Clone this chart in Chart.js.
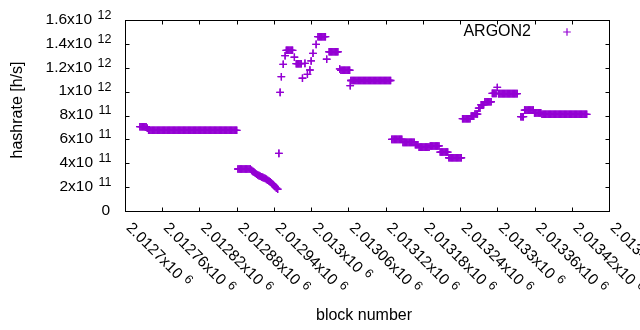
<!DOCTYPE html>
<html>
<head>
<meta charset="utf-8">
<script src="https://cdn.jsdelivr.net/npm/chart.js@4/dist/chart.umd.min.js"></script>
<style>
  html, body { margin: 0; padding: 0; background: #fff; }
  #c { display: block; }
</style>
</head>
<body>
<canvas id="c" width="640" height="330"></canvas>
<script>
// ---- data ----
const seriesName = 'ARGON2';
const xTitle = 'block number';
const yTitle = 'hashrate [h/s]';

const blocks = [
  2012724,2012726,2012728,2012730,2012732,2012734,2012736,
  2012738,2012740,2012742,2012744,2012746,2012748,2012750,2012752,2012754,2012756,2012758,2012760,2012762,2012764,2012766,2012768,2012770,2012772,
  2012774,2012776,2012778,2012780,2012782,2012784,2012786,2012788,2012790,2012792,2012794,2012796,2012798,2012800,2012802,2012804,2012806,2012808,
  2012810,2012812,2012814,2012816,2012818,2012820,2012822,2012824,2012826,2012828,2012830,2012832,2012834,2012836,2012838,2012840,2012842,2012844,
  2012846,2012848,2012850,2012852,2012854,2012856,2012858,2012860,2012862,2012864,2012866,2012868,2012870,2012872,2012874,2012876,2012878,2012880,
  2012882,2012884,2012886,2012888,2012890,2012892,2012894,2012896,2012898,2012900,2012902,
  2012904,2012906,2012908,2012910,2012912,2012914,2012916,2012918,2012920,2012922,2012924,2012926,2012928,2012930,2012932,2012934,2012936,2012938,2012940,2012942,2012944,2012946,
  2012948,2012950,2012952,2012955,2012958,
  2012960,2012962,2012964,2012966,2012968,2012970,2012973,
  2012976,2012978,2012980,2012982,2012984,2012986,2012990,2012994,2012998,2013000,2013003,2013008,
  2013011,2013013,2013015,2013017,2013019,2013021,2013023,2013025,
  2013029,2013031,2013033,2013035,2013037,2013039,2013041,2013043,2013046,
  2013048,2013050,2013052,2013054,2013056,2013058,2013060,2013062,2013063,
  2013064,2013066,2013068,2013070,2013072,2013074,2013076,2013078,2013080,2013082,2013084,2013086,2013088,2013090,2013092,2013094,
  2013096,2013098,2013100,2013102,2013104,2013106,2013108,2013110,2013112,2013114,2013116,2013118,2013120,2013122,2013124,2013126,2013128,
  2013130,2013132,2013134,2013136,2013138,2013140,2013142,2013144,2013146,
  2013148,2013150,2013152,2013154,2013156,2013158,2013160,2013162,2013164,2013166,
  2013168,2013170,2013172,
  2013174,2013176,2013178,2013180,2013182,2013184,2013186,2013188,2013190,
  2013192,2013194,2013196,2013198,2013200,2013202,2013204,2013206,
  2013208,2013210,2013212,2013214,2013216,2013218,2013220,
  2013222,2013224,2013226,2013228,2013230,2013232,2013234,2013236,2013238,2013240,2013242,
  2013244,2013246,2013248,2013250,2013252,2013254,2013256,
  2013258,2013260,2013262,2013264,2013266,2013268,2013270,2013272,2013274,2013276,2013278,
  2013280,2013282,2013284,2013286,2013288,2013290,2013292,2013294,2013296,2013298,2013300,
  2013302,2013304,2013306,2013308,2013310,2013312,2013314,2013316,2013318,2013320,2013322,2013324,2013326,2013328,2013330,2013332,
  2013338,2013340,2013342,
  2013344,2013346,2013348,2013350,2013352,2013354,2013356,2013358,
  2013360,2013362,2013364,2013366,2013368,2013370,
  2013372,2013374,2013376,2013378,2013380,2013382,2013384,2013386,2013388,2013390,2013392,2013394,2013396,2013398,2013400,2013402,2013404,2013406,
  2013408,2013410,2013412,2013414,2013416,2013418,2013420,2013422,2013424,2013426,2013428,2013430,2013432,2013434,2013436,2013438,2013440,2013442,2013444
];

const hashrate = [
  706e9,706e9,706e9,706e9,706e9,706e9,693e9,
  676e9,676e9,676e9,676e9,676e9,676e9,676e9,676e9,676e9,676e9,676e9,676e9,676e9,676e9,676e9,676e9,676e9,676e9,
  676e9,676e9,676e9,676e9,676e9,676e9,676e9,676e9,676e9,676e9,676e9,676e9,676e9,676e9,676e9,676e9,676e9,676e9,
  676e9,676e9,676e9,676e9,676e9,676e9,676e9,676e9,676e9,676e9,676e9,676e9,676e9,676e9,676e9,676e9,676e9,676e9,
  676e9,676e9,676e9,676e9,676e9,676e9,676e9,676e9,676e9,676e9,676e9,676e9,676e9,676e9,676e9,676e9,676e9,676e9,
  352e9,352e9,352e9,352e9,352e9,352e9,352e9,352e9,352e9,352e9,352e9,
  340e9,332e9,324e9,316e9,308e9,302e9,296e9,291e9,286e9,282e9,277e9,272e9,265e9,258e9,251e9,244e9,234e9,224e9,214e9,203e9,192e9,182e9,
  483e9,994e9,1125e9,1229e9,1301e9,
  1346e9,1346e9,1346e9,1346e9,1346e9,1346e9,1288e9,
  1234e9,1234e9,1234e9,1234e9,1234e9,1112e9,1237e9,1145e9,1181e9,1257e9,1321e9,1396e9,
  1460e9,1460e9,1460e9,1460e9,1460e9,1460e9,1460e9,1271e9,
  1334e9,1334e9,1334e9,1334e9,1334e9,1334e9,1334e9,1334e9,1190e9,
  1179e9,1179e9,1179e9,1179e9,1179e9,1179e9,1179e9,1179e9,1050e9,
  1093e9,1093e9,1093e9,1093e9,1093e9,1093e9,1093e9,1093e9,1093e9,1093e9,1093e9,1093e9,1093e9,1093e9,1093e9,1093e9,
  1093e9,1093e9,1093e9,1093e9,1093e9,1093e9,1093e9,1093e9,1093e9,1093e9,1093e9,1093e9,1093e9,1093e9,1093e9,1093e9,1093e9,
  600e9,600e9,600e9,600e9,600e9,600e9,600e9,600e9,600e9,
  575e9,575e9,575e9,575e9,575e9,575e9,575e9,575e9,575e9,575e9,
  555e9,555e9,555e9,
  535e9,535e9,535e9,535e9,535e9,535e9,535e9,535e9,535e9,
  545e9,545e9,545e9,545e9,545e9,545e9,545e9,545e9,
  494e9,494e9,494e9,494e9,494e9,494e9,494e9,
  446e9,446e9,446e9,446e9,446e9,446e9,446e9,446e9,446e9,446e9,446e9,
  773e9,773e9,773e9,773e9,773e9,773e9,773e9,
  795e9,795e9,795e9,812e9,812e9,812e9,862e9,862e9,890e9,890e9,890e9,
  915e9,915e9,915e9,915e9,915e9,915e9,985e9,985e9,985e9,985e9,1035e9,
  983e9,983e9,983e9,983e9,983e9,983e9,983e9,983e9,983e9,983e9,983e9,983e9,983e9,983e9,983e9,983e9,
  790e9,790e9,790e9,
  845e9,845e9,845e9,845e9,845e9,845e9,845e9,845e9,
  822e9,822e9,822e9,822e9,822e9,822e9,
  810e9,810e9,810e9,810e9,810e9,810e9,810e9,810e9,810e9,810e9,810e9,810e9,810e9,810e9,810e9,810e9,810e9,810e9,
  810e9,810e9,810e9,810e9,810e9,810e9,810e9,810e9,810e9,810e9,810e9,810e9,810e9,810e9,810e9,810e9,810e9,810e9,810e9
];

const xMin = 2012700, xMax = 2013480, xStep = 60;
const yMin = 0, yMax = 1.6e12, yStep = 0.2e12;

// ---- styling ----
const COLOR = '#9400d3';
const FONT_FAMILY = "'Liberation Sans', Arial, Helvetica, sans-serif";
const BASE_FONT = '15.5px ' + FONT_FAMILY;
const SUP_FONT = '12.5px ' + FONT_FAMILY;
const TITLE_FONT = '16px ' + FONT_FAMILY;
const TICK = 4;
const MARK_R = 3.8;
const MARK_W = 1.3;

function splitPow(v) {
  if (Math.abs(v) < 1e-9) return null;
  const e = Math.floor(Math.log10(Math.abs(v)) + 1e-9);
  const m = parseFloat((v / Math.pow(10, e)).toPrecision(8));
  return { m: m, e: e };
}

function drawCross(ctx, x, y) {
  ctx.beginPath();
  ctx.moveTo(x - MARK_R, y); ctx.lineTo(x + MARK_R, y);
  ctx.moveTo(x, y - MARK_R); ctx.lineTo(x, y + MARK_R);
  ctx.stroke();
}

// second pass over the library-drawn points so dense runs read as solid bands
const solidRuns = {
  id: 'solidRuns',
  afterDatasetsDraw(chart) {
    const meta = chart.getDatasetMeta(0);
    const a = chart.chartArea;
    const ctx = chart.ctx;
    ctx.save();
    ctx.beginPath();
    ctx.rect(a.left, a.top, a.right - a.left, a.bottom - a.top);
    ctx.clip();
    meta.controller.draw();
    ctx.restore();
  }
};

const gnuplotDecor = {
  id: 'gnuplotDecor',
  afterDraw(chart) {
    const ctx = chart.ctx;
    const a = chart.chartArea;
    const xs = chart.scales.x, ys = chart.scales.y;
    ctx.save();
    ctx.strokeStyle = '#000';
    ctx.fillStyle = '#000';
    ctx.lineWidth = 1;
    const L = Math.round(a.left) + 0.5, R = Math.round(a.right) + 0.5;
    const T = Math.round(a.top) + 0.5, B = Math.round(a.bottom) + 0.5;
    ctx.strokeRect(L, T, R - L, B - T);
    ctx.beginPath();
    ys.ticks.forEach(t => {
      const y = Math.round(ys.getPixelForValue(t.value)) + 0.5;
      ctx.moveTo(L, y); ctx.lineTo(L + TICK, y);
      ctx.moveTo(R, y); ctx.lineTo(R - TICK, y);
    });
    xs.ticks.forEach(t => {
      const x = Math.round(xs.getPixelForValue(t.value)) + 0.5;
      ctx.moveTo(x, B); ctx.lineTo(x, B - TICK);
      ctx.moveTo(x, T); ctx.lineTo(x, T + TICK);
    });
    ctx.stroke();

    // y tick labels  (mantissa x10^exp)
    ctx.textBaseline = 'middle';
    ys.ticks.forEach(t => {
      const y = ys.getPixelForValue(t.value);
      const p = splitPow(t.value);
      if (!p) {
        ctx.font = BASE_FONT; ctx.textAlign = 'right';
        ctx.fillText('0', a.left - 15, y);
        return;
      }
      ctx.font = SUP_FONT;
      const es = String(p.e);
      const sw = ctx.measureText(es).width;
      const supX = a.left - 13.5 - sw;
      ctx.textAlign = 'left';
      ctx.fillText(es, supX, y - 4.5);
      ctx.font = BASE_FONT; ctx.textAlign = 'right';
      ctx.fillText(p.m + 'x10', supX - 5.5, y - 0.5);
    });

    // x tick labels, rotated -45 (gnuplot sense)
    xs.ticks.forEach(t => {
      const x = xs.getPixelForValue(t.value);
      const p = splitPow(t.value);
      ctx.save();
      ctx.translate(x + 3.5, a.bottom + 14.5);
      ctx.rotate(Math.PI / 4);
      ctx.textAlign = 'left'; ctx.textBaseline = 'middle';
      ctx.font = BASE_FONT;
      const base = p.m + 'x10';
      ctx.fillText(base, 0, 0);
      const w = ctx.measureText(base).width;
      ctx.font = SUP_FONT;
      ctx.fillText(String(p.e), w + 5, -4);
      ctx.restore();
    });

    // axis titles
    ctx.font = TITLE_FONT;
    ctx.textAlign = 'center'; ctx.textBaseline = 'middle';
    ctx.fillText(xTitle, 364, 315.5);
    ctx.save();
    ctx.translate(17.5, 110);
    ctx.rotate(-Math.PI / 2);
    ctx.fillText(yTitle, 0, 0);
    ctx.restore();

    // key
    ctx.textAlign = 'right';
    ctx.fillText(seriesName, 531, 31.5);
    ctx.strokeStyle = COLOR; ctx.lineWidth = 1.2;
    drawCross(ctx, 567, 32);
    ctx.restore();
  }
};

new Chart(document.getElementById('c'), {
  type: 'scatter',
  data: {
    datasets: [{
      label: seriesName,
      data: blocks.map((b, i) => ({ x: b, y: hashrate[i] })),
      pointStyle: 'cross',
      pointRadius: MARK_R,
      pointHoverRadius: MARK_R,
      pointBorderWidth: MARK_W,
      borderColor: COLOR,
      backgroundColor: COLOR,
      showLine: false
    }]
  },
  options: {
    responsive: false,
    animation: false,
    devicePixelRatio: 1,
    layout: { padding: { top: 20, right: 31, bottom: 0, left: 0 } },
    plugins: { legend: { display: false }, tooltip: { enabled: false } },
    scales: {
      x: {
        type: 'linear', position: 'bottom',
        min: xMin, max: xMax,
        ticks: { stepSize: xStep, display: false },
        grid: { display: false }, border: { display: false },
        afterFit: s => { s.height = 119; }
      },
      y: {
        type: 'linear', position: 'left',
        min: yMin, max: yMax,
        ticks: { stepSize: yStep, display: false },
        grid: { display: false }, border: { display: false },
        afterFit: s => { s.width = 125; }
      }
    }
  },
  plugins: [solidRuns, gnuplotDecor]
});
</script>
</body>
</html>
